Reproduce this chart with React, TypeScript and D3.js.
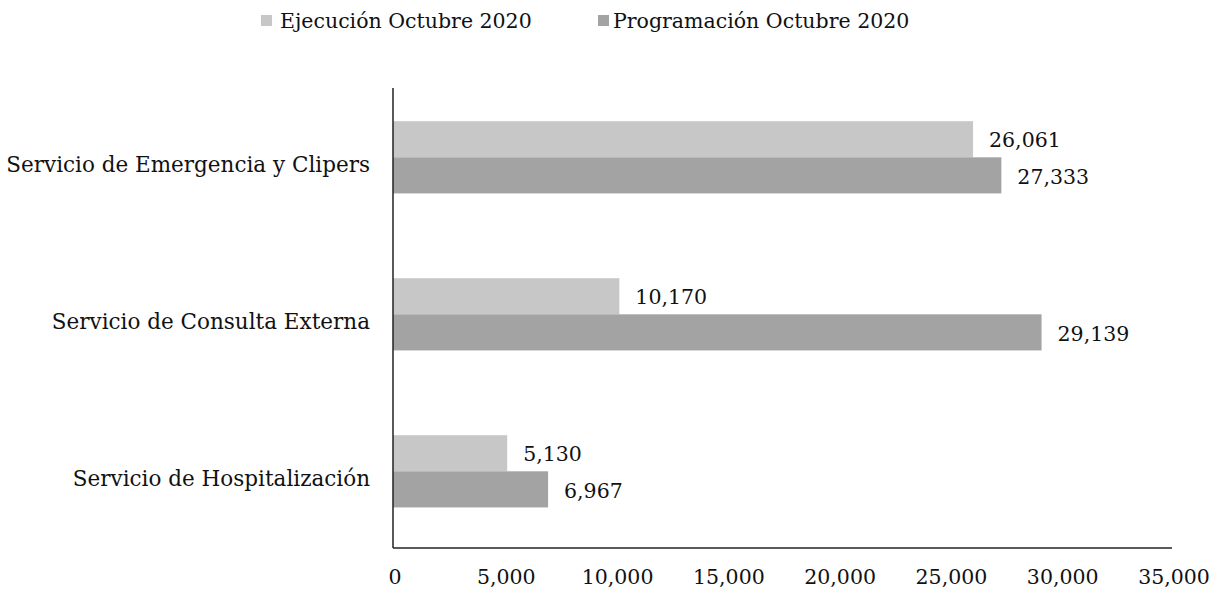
import React from "react";
import * as d3 from "d3";

const categories = [
  "Servicio de Emergencia y Clipers",
  "Servicio de Consulta Externa",
  "Servicio de Hospitalización",
];
const seriesNames = ["Ejecución Octubre 2020", "Programación Octubre 2020"];
const ejecucion = [26061, 10170, 5130];
const programacion = [27333, 29139, 6967];
const xTicks = [0, 5000, 10000, 15000, 20000, 25000, 30000, 35000];
const colors = ["#c7c7c7", "#a3a3a3"];

const W = 1218;
const H = 592;
const FONT = "'DejaVu Serif', 'Liberation Serif', serif";
const FS = 20.5;
const FS_CAT = 21.5;

export default function App() {
  const x = d3.scaleLinear().domain([0, 35000]).range([393, 1172]);
  const y = d3
    .scaleBand<string>()
    .domain(categories)
    .range([88, 548])
    .paddingInner(0.54)
    .paddingOuter(0.235)
    .align(0.45);
  const bw = y.bandwidth() / 2;
  const fmt = d3.format(",");
  const series = [ejecucion, programacion];

  return (
    <svg width={W} height={H} style={{ position: "absolute", left: 0, top: 0, background: "#fff" }}>
      <rect width={W} height={H} fill="#fff" />
      {/* legend */}
      <g fontFamily={FONT} fontSize={FS} fill="#111">
        <rect x={261} y={15} width={11} height={11} fill={colors[0]} />
        <text x={280} y={28}>{seriesNames[0]}</text>
        <rect x={598} y={15} width={11} height={11} fill={colors[1]} />
        <text x={613} y={28}>{seriesNames[1]}</text>
      </g>
      {/* bars */}
      {categories.map((c, i) => (
        <g key={c}>
          {series.map((s, j) => {
            const y0 = (y(c) as number) + j * bw;
            return (
              <g key={j}>
                <rect x={x(0)} y={y0} width={x(s[i]) - x(0)} height={bw} fill={colors[j]} />
                <text
                  x={x(s[i]) + 16}
                  y={y0 + bw / 2 + 1}
                  dy="0.35em"
                  fontFamily={FONT}
                  fontSize={FS}
                  fill="#111"
                >
                  {fmt(s[i])}
                </text>
              </g>
            );
          })}
          <text
            x={370}
            y={(y(c) as number) + bw + 7}
            dy="0.35em"
            textAnchor="end"
            fontFamily={FONT}
            fontSize={FS_CAT}
            fill="#111"
          >
            {c}
          </text>
        </g>
      ))}
      {/* axes */}
      <line x1={x(0)} x2={x(0)} y1={88} y2={548} stroke="#222" strokeWidth={1.5} />
      <line x1={x(0)} x2={x(35000)} y1={548} y2={548} stroke="#222" strokeWidth={1.5} />
      {xTicks.map((t) => (
        <text
          key={t}
          x={x(t) + 2}
          y={577}
          dy="0.35em"
          textAnchor="middle"
          fontFamily={FONT}
          fontSize={FS}
          fill="#111"
        >
          {fmt(t)}
        </text>
      ))}
    </svg>
  );
}
